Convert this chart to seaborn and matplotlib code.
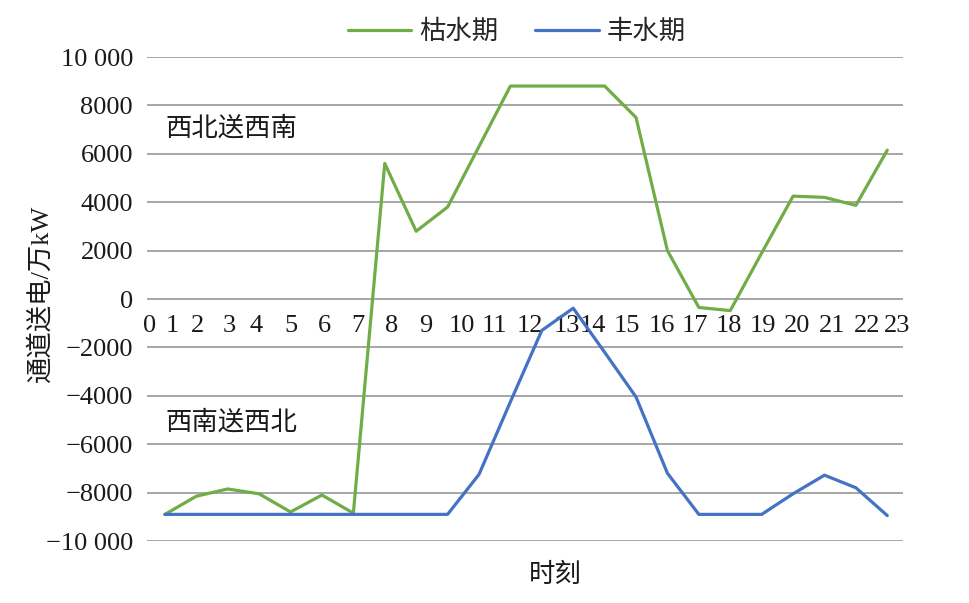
import pandas as pd
import matplotlib
matplotlib.use('Agg')
import matplotlib.pyplot as plt
import seaborn as sns

hours = list(range(24))
dry_season = [-8900, -8150, -7850, -8050, -8800, -8100, -8850, 5600, 2800, 3800,
              6300, 8800, 8800, 8800, 8800, 7500, 2000, -350, -480, 1900,
              4250, 4200, 3870, 6150]
wet_season = [-8900, -8900, -8900, -8900, -8900, -8900, -8900, -8900, -8900, -8900,
              -7250, -4250, -1300, -380, -2200, -4050, -7200, -8900, -8900, -8900,
              -8050, -7280, -7800, -8950]
series_names = ['枯水期', '丰水期']
hour_labels = [str(h) for h in hours]
y_ticks = [10000, 8000, 6000, 4000, 2000, 0, -2000, -4000, -6000, -8000, -10000]
y_tick_labels = ['10 000', '8000', '6000', '4000', '2000', '0', '\u22122000',
                 '\u22124000', '\u22126000', '\u22128000', '\u221210 000']

# the hour labels sit a bit off the points in the original figure
label_pos = [-0.48, 0.25, 1.05, 2.04, 2.90, 4.01, 5.09, 6.14, 7.22, 8.30, 9.45, 10.50,
             11.61, 12.79, 13.62, 14.70, 15.81, 16.86, 17.97, 19.03, 20.14, 21.25,
             22.37, 23.32]

df = pd.DataFrame({
    'hour': hours * 2,
    'value': dry_season + wet_season,
    'period': [series_names[0]] * 24 + [series_names[1]] * 24,
})

sns.set_theme(style='white')
plt.rcParams['font.family'] = ['Liberation Serif', 'Noto Sans CJK SC']
plt.rcParams['axes.unicode_minus'] = True

fig = plt.figure(figsize=(9.69, 6.03), dpi=100)
ax = fig.add_axes([147 / 969, 1 - 541 / 603, (903 - 147) / 969, (541 - 57) / 603])

palette = {series_names[0]: '#70AD47', series_names[1]: '#4472C4'}
sns.lineplot(data=df, x='hour', y='value', hue='period', hue_order=series_names,
             palette=palette, linewidth=2.3, ax=ax, legend=False)

ax.set_xlim(-0.57, 23.5)
ax.set_ylim(-10000, 10000)
ax.set_yticks(y_ticks)
ax.set_yticklabels(y_tick_labels, fontsize=19, color='#1a1a1a')
ax.yaxis.grid(True, color='#a6a6a6', linewidth=1.4)
ax.set_axisbelow(True)
for s in ['left', 'right', 'top']:
    ax.spines[s].set_visible(False)
ax.spines['bottom'].set_position(('data', 0))
ax.spines['bottom'].set_visible(False)
ax.set_xticks(label_pos)
ax.set_xticklabels(hour_labels, fontsize=19, color='#1a1a1a')
ax.tick_params(axis='both', length=0)
ax.tick_params(axis='x', pad=11.5)
ax.tick_params(axis='y', pad=10)

ax.set_xlabel('')
ax.set_ylabel('')
fig.text(40 / 969, 1 - 293 / 603, '通道送电/万kW', rotation=90, fontsize=19,
         ha='center', va='center', color='#1a1a1a')
fig.text(555 / 969, 1 - 575 / 603, '时刻', fontsize=19, ha='center', va='center',
         color='#1a1a1a')

ax.text(2.13, 7050, '西北送西南', fontsize=19, ha='center', va='center', color='#1a1a1a')
ax.text(2.13, -5110, '西南送西北', fontsize=19, ha='center', va='center', color='#1a1a1a')

handles = [plt.Line2D([], [], color=palette[n], linewidth=2.3) for n in series_names]
fig.legend(handles, series_names, loc='center', bbox_to_anchor=(517 / 969, 1 - 32 / 603),
           ncol=2, frameon=False, fontsize=19, handlelength=2.4, handletextpad=0.3,
           columnspacing=1.4)

fig.savefig('out.png', dpi=100)
